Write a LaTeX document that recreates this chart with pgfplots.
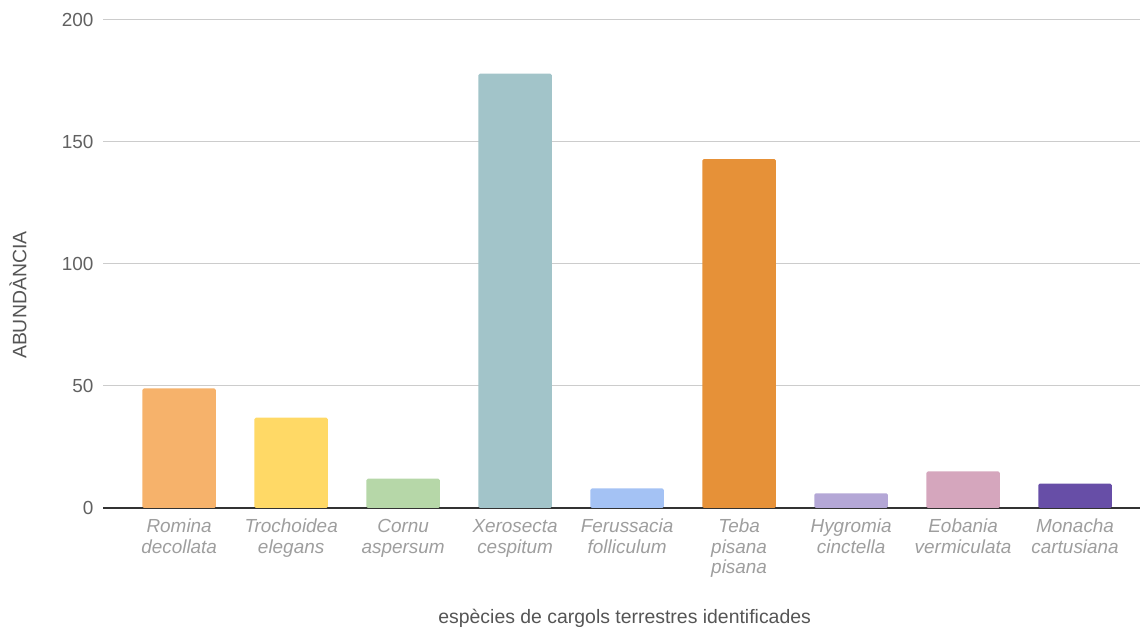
\documentclass[border=0pt]{standalone}
\usepackage{pgfplots}
\pgfplotsset{compat=1.18}
\usepackage{fontspec}
\setmainfont{Liberation Sans}
\definecolor{c1}{HTML}{F6B26B}
\definecolor{c2}{HTML}{FFD966}
\definecolor{c3}{HTML}{B6D7A8}
\definecolor{c4}{HTML}{A2C4C9}
\definecolor{c5}{HTML}{A4C2F4}
\definecolor{c6}{HTML}{E69138}
\definecolor{c7}{HTML}{B4A7D6}
\definecolor{c8}{HTML}{D5A6BD}
\definecolor{c9}{HTML}{674EA7}
\definecolor{gridc}{HTML}{CCCCCC}
\definecolor{basec}{HTML}{333333}
\definecolor{ytc}{HTML}{616161}
\definecolor{xtc}{HTML}{9E9E9E}
\definecolor{titc}{HTML}{555555}
\begin{document}
\begin{tikzpicture}
\useasboundingbox (0,0) rectangle (1140bp,628bp);
\begin{axis}[
  at={(103bp,120bp)}, anchor=south west,
  scale only axis, width=1037bp, height=488bp,
  xmin=-0.68, xmax=8.58, ymin=0, ymax=200,
  ytick={50,100,150,200},
  extra y ticks={0},
  extra y tick style={grid style={color=basec, line width=1.8bp}},
  ymajorgrids,
  grid style={gridc, line width=1bp},
  axis line style={draw=none},
  major tick length=0pt,
  /pgf/number format/assume math mode=true,
  yticklabel style={font=\fontsize{19}{20}\selectfont, color=ytc, anchor=east, xshift=-6bp},
  xtick={0,...,8},
  xticklabels={{\strut Romina\\decollata},{\strut Trochoidea\\elegans},{\strut Cornu\\aspersum},{\strut Xerosecta\\cespitum},{\strut Ferussacia\\folliculum},{\strut Teba\\pisana\\pisana},{\strut Hygromia\\cinctella},{\strut Eobania\\vermiculata},{\strut Monacha\\cartusiana}},
  xticklabel style={font=\fontsize{19}{20.5}\selectfont\itshape, color=xtc, align=center, anchor=north, yshift=-7bp},
  ybar, bar width=73.5bp, bar shift=0pt,
  every axis plot/.append style={draw=none, rounded corners=1.5bp},
  xlabel={espècies de cargols terrestres identificades},
  ylabel={ABUNDÀNCIA},
  every axis x label/.style={at={(rel axis cs:0.503,-0.227)}, anchor=center, font=\fontsize{19.5}{21}\selectfont, color=titc},
  every axis y label/.style={at={(rel axis cs:-0.082,0.436)}, anchor=center, rotate=90, font=\fontsize{19.5}{21}\selectfont, color=titc},
  clip=false,
]
\addplot[fill=c1] coordinates {(0,49)};
\addplot[fill=c2] coordinates {(1,37)};
\addplot[fill=c3] coordinates {(2,12)};
\addplot[fill=c4] coordinates {(3,178)};
\addplot[fill=c5] coordinates {(4,8)};
\addplot[fill=c6] coordinates {(5,143)};
\addplot[fill=c7] coordinates {(6,6)};
\addplot[fill=c8] coordinates {(7,15)};
\addplot[fill=c9] coordinates {(8,10)};
\end{axis}
\end{tikzpicture}
\end{document}
